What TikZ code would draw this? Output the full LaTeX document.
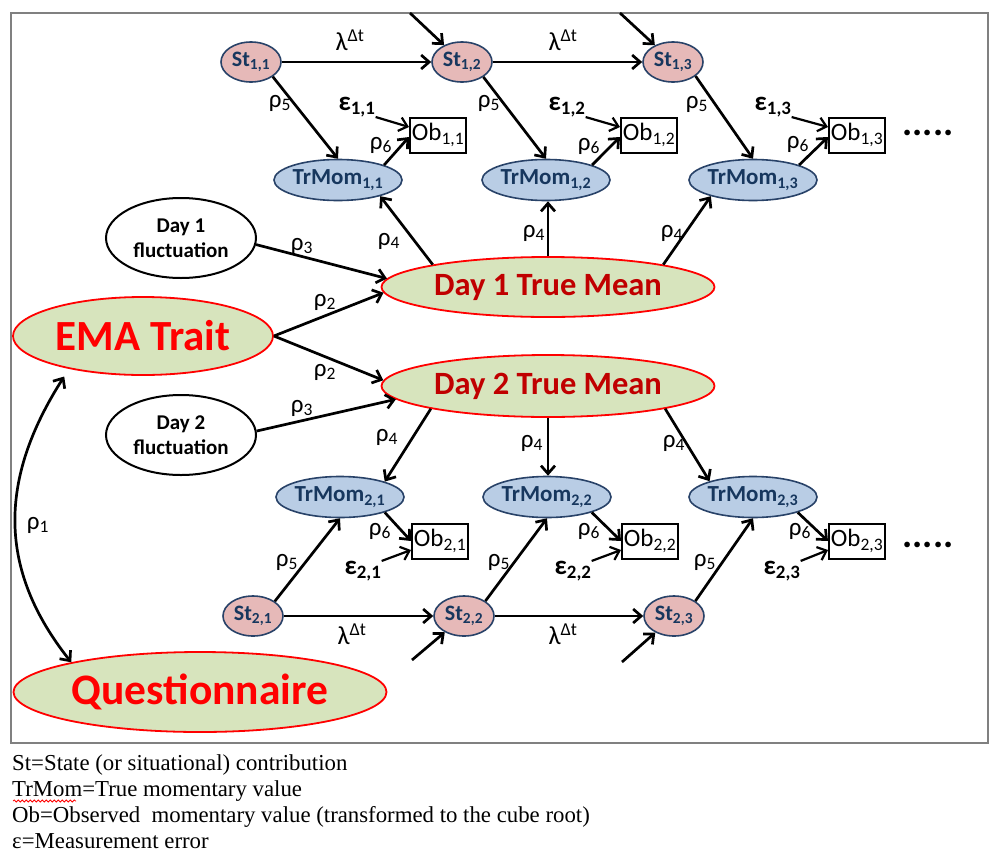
\documentclass[tikz,border=0pt]{standalone}
\usepackage{fontspec}
\setmainfont{Carlito}
\newfontfamily\legendfont{Liberation Serif}
\usetikzlibrary{shapes.geometric,arrows.meta,decorations.pathmorphing}

\definecolor{stfill}{RGB}{230,185,184}
\definecolor{trfill}{RGB}{185,205,229}
\definecolor{navy}{RGB}{23,55,94}
\definecolor{edgeblue}{RGB}{40,66,104}
\definecolor{grfill}{RGB}{215,228,189}
\definecolor{darkred}{RGB}{192,0,0}
\definecolor{brightred}{RGB}{255,0,0}
\definecolor{framegray}{RGB}{128,128,128}

\newcommand\fsz[2]{\fontsize{#1}{#2}\selectfont}

\tikzset{
  conn/.style={line width=2.7pt, -{Straight Barb[length=8pt,width=14pt]}},
  stn/.style={ellipse, draw=edgeblue, line width=1.6pt, fill=stfill, minimum width=60pt, minimum height=40pt, inner sep=0pt, font=\fsz{22}{26}\bfseries, text=navy},
  trn/.style={ellipse, draw=edgeblue, line width=1.6pt, fill=trfill, minimum width=128pt, minimum height=41pt, inner sep=0pt, font=\fsz{23}{27}\bfseries, text=navy},
  obn/.style={rectangle, draw=black, line width=2pt, fill=white, minimum width=56pt, minimum height=35pt, inner sep=0pt, font=\fsz{25}{29}},
  flucn/.style={ellipse, draw=black, line width=2pt, fill=white, minimum width=150pt, minimum height=80pt, inner sep=0pt, align=center, font=\fsz{21}{25}\bfseries},
  greenn/.style={ellipse, draw=brightred, line width=1.8pt, fill=grfill, inner sep=0pt},
  lbl/.style={inner sep=0pt, font=\fsz{25}{29}},
  lamb/.style={inner sep=0pt, font=\fsz{26}{30}},
  epsl/.style={inner sep=0pt, font=\fsz{27}{30}\bfseries},
  dotsl/.style={inner sep=0pt, font=\fsz{38}{40}\bfseries},
  leg/.style={inner sep=0pt, anchor=base west, font=\legendfont\fsz{22.8}{26}}
}

\begin{document}
\begin{tikzpicture}[x=1pt, y=-1pt]
\useasboundingbox (0,0) rectangle (990,854);
\fill[white] (0,0) rectangle (990,854);
\draw[framegray, line width=2pt] (11,13) rectangle (988,743);

% ---- top row
\node[stn] (St11) at (251,62) {St\textsubscript{1,1}};
\node[stn] (St12) at (462,62) {St\textsubscript{1,2}};
\node[stn] (St13) at (673,62) {St\textsubscript{1,3}};
\node[trn] (Tr11) at (338,180) {TrMom\textsubscript{1,1}};
\node[trn] (Tr12) at (546,180) {TrMom\textsubscript{1,2}};
\node[trn] (Tr13) at (753,180) {TrMom\textsubscript{1,3}};
\node[obn] (Ob11) at (438,135) {Ob\textsubscript{1,1}};
\node[obn] (Ob12) at (649,135) {Ob\textsubscript{1,2}};
\node[obn] (Ob13) at (857,135) {Ob\textsubscript{1,3}};
\node[dotsl] (dots1) at (928,133) {.....};

% ---- bottom row
\node[stn] (St21) at (253,616) {St\textsubscript{2,1}};
\node[stn] (St22) at (464,616) {St\textsubscript{2,2}};
\node[stn] (St23) at (674,616) {St\textsubscript{2,3}};
\node[trn] (Tr21) at (340,497) {TrMom\textsubscript{2,1}};
\node[trn] (Tr22) at (547,497) {TrMom\textsubscript{2,2}};
\node[trn] (Tr23) at (753,497) {TrMom\textsubscript{2,3}};
\node[obn] (Ob21) at (440,541) {Ob\textsubscript{2,1}};
\node[obn] (Ob22) at (650,541) {Ob\textsubscript{2,2}};
\node[obn] (Ob23) at (857,541) {Ob\textsubscript{2,3}};
\node[dotsl] (dots2) at (928,545) {.....};

% ---- middle
\node[flucn] (F1) at (181,238) {Day 1\\fluctuation};
\node[flucn] (F2) at (181,435) {Day 2\\fluctuation};
\node[greenn, minimum width=333pt, minimum height=60pt, text=darkred, font=\fsz{32.5}{36}\bfseries] (D1) at (548,287) {Day 1 True Mean};
\node[greenn, minimum width=333pt, minimum height=62pt, text=darkred, font=\fsz{32.5}{36}\bfseries] (D2) at (548,386) {Day 2 True Mean};
\node[greenn, minimum width=260pt, minimum height=78pt, text=brightred, font=\fsz{43}{46}\bfseries] (EMA) at (143,336) {EMA Trait};
\node[greenn, minimum width=373pt, minimum height=80pt, text=brightred, font=\fsz{43.5}{46}\bfseries] (Q) at (200,692) {Questionnaire};

% ---- free ends
\coordinate (in12) at (410,13);
\coordinate (in13) at (620,13);
\coordinate (in22) at (412,660);
\coordinate (in23) at (622,662);

% ---- connectors top
\draw[conn] (St11) -- (St12);
\draw[conn] (St12) -- (St13);
\draw[conn] (in12) -- (St12);
\draw[conn] (in13) -- (St13);
\draw[conn] (St11.-34) -- (Tr11.north);
\draw[conn] (St12.-35) -- (Tr12.north);
\draw[conn] (St13.-32) -- (Tr13.north);
\draw[conn] (Tr11.18) -- ([yshift=-2pt]Ob11.west);
\draw[conn] (Tr12.18) -- ([yshift=-2pt]Ob12.west);
\draw[conn] (Tr13.18) -- ([yshift=-2pt]Ob13.west);

% ---- connectors bottom
\draw[conn] (St21) -- (St22);
\draw[conn] (St22) -- (St23);
\draw[conn] (in22) -- (St22);
\draw[conn] (in23) -- (St23);
\draw[conn] (St21.34) -- (Tr21.south);
\draw[conn] (St22.35) -- (Tr22.south);
\draw[conn] (St23.35) -- (Tr23.south);
\draw[conn] (Tr21.-19) -- (Ob21.west);
\draw[conn] (Tr22.-19) -- (Ob22.west);
\draw[conn] (Tr23.-19) -- (Ob23.west);

% ---- middle connectors
\draw[conn] (F1.-5) -- (D1.177);
\draw[conn] (EMA.east) -- (D1.182);
\draw[conn] (EMA.east) -- (D2.178);
\draw[conn] (F2.3) -- (D2.185);
\draw[conn] (D1.169) -- (Tr11.-21);
\draw[conn] (D1.north) -- (D1.north |- Tr12.south);
\draw[conn] (D1.11) -- (Tr13.-159);
\draw[conn] (D2.191) -- (Tr21.19);
\draw[conn] (D2.south) -- (D2.south |- Tr22.north);
\draw[conn] (D2.-11) -- (Tr23.160);
\draw[line width=2.7pt, {Straight Barb[length=8pt,width=14pt]}-{Straight Barb[length=8pt,width=14pt]}, shorten <=9pt]
  (EMA.204) .. controls (-2,480) and (-2,570) .. (Q.167);

% ---- epsilon labels and arrows
\node[epsl] (e11) at (357,107) {ε\textsubscript{1,1}};
\node[epsl] (e12) at (567,107) {ε\textsubscript{1,2}};
\node[epsl] (e13) at (773,107) {ε\textsubscript{1,3}};
\node[epsl] (e21) at (363,571) {ε\textsubscript{2,1}};
\node[epsl] (e22) at (573,571) {ε\textsubscript{2,2}};
\node[epsl] (e23) at (782,571) {ε\textsubscript{2,3}};
\draw[conn, line width=2.2pt] (e11.south east) -- ([yshift=8pt]Ob11.west);
\draw[conn, line width=2.2pt] (e12.south east) -- ([yshift=8pt]Ob12.west);
\draw[conn, line width=2.2pt] (e13.south east) -- ([yshift=8pt]Ob13.west);
\draw[conn, line width=2.2pt] (e21.north east) -- ([yshift=-9pt]Ob21.west);
\draw[conn, line width=2.2pt] (e22.north east) -- ([yshift=-9pt]Ob22.west);
\draw[conn, line width=2.2pt] (e23.north east) -- ([yshift=-9pt]Ob23.west);

% ---- coefficient labels
\node[lamb] (lt1) at (350,40) {λ\textsuperscript{Δt}};
\node[lamb] (lt2) at (563,40) {λ\textsuperscript{Δt}};
\node[lamb] (lb1) at (352,634) {λ\textsuperscript{Δt}};
\node[lamb] (lb2) at (563,634) {λ\textsuperscript{Δt}};
\node[lbl] (r5a) at (280,103) {ρ\textsubscript{5}};
\node[lbl] (r5b) at (489,103) {ρ\textsubscript{5}};
\node[lbl] (r5c) at (697,104) {ρ\textsubscript{5}};
\node[lbl] (r6a) at (381,145) {ρ\textsubscript{6}};
\node[lbl] (r6b) at (589,146) {ρ\textsubscript{6}};
\node[lbl] (r6c) at (798,144) {ρ\textsubscript{6}};
\node[lbl] (r5d) at (287,562) {ρ\textsubscript{5}};
\node[lbl] (r5e) at (499,562) {ρ\textsubscript{5}};
\node[lbl] (r5f) at (705,562) {ρ\textsubscript{5}};
\node[lbl] (r6d) at (380,531) {ρ\textsubscript{6}};
\node[lbl] (r6e) at (589,531) {ρ\textsubscript{6}};
\node[lbl] (r6f) at (800,531) {ρ\textsubscript{6}};
\node[lbl] (r4a) at (389,241) {ρ\textsubscript{4}};
\node[lbl] (r4b) at (534,233) {ρ\textsubscript{4}};
\node[lbl] (r4c) at (672,233) {ρ\textsubscript{4}};
\node[lbl] (r4d) at (387,437) {ρ\textsubscript{4}};
\node[lbl] (r4e) at (532,443) {ρ\textsubscript{4}};
\node[lbl] (r4f) at (674,443) {ρ\textsubscript{4}};
\node[lbl] (r3a) at (302,246) {ρ\textsubscript{3}};
\node[lbl] (r3b) at (302,408) {ρ\textsubscript{3}};
\node[lbl] (r2a) at (325,302) {ρ\textsubscript{2}};
\node[lbl] (r2b) at (325,372) {ρ\textsubscript{2}};
\node[lbl] (r1) at (38,525) {ρ\textsubscript{1}};

% ---- legend
\node[leg] (L1) at (12,770) {St=State (or situational) contribution};
\node[leg] (L2) at (12,796) {TrMom=True momentary value};
\node[leg] (L3) at (12,822) {Ob=Observed\ \ momentary value (transformed to the cube root)};
\node[leg] (L4) at (12,848) {ε=Measurement error};
\draw[red, line width=0.8pt, decorate, decoration={snake, amplitude=1pt, segment length=4pt}] (13,801) -- (76,801);
\end{tikzpicture}
\end{document}
